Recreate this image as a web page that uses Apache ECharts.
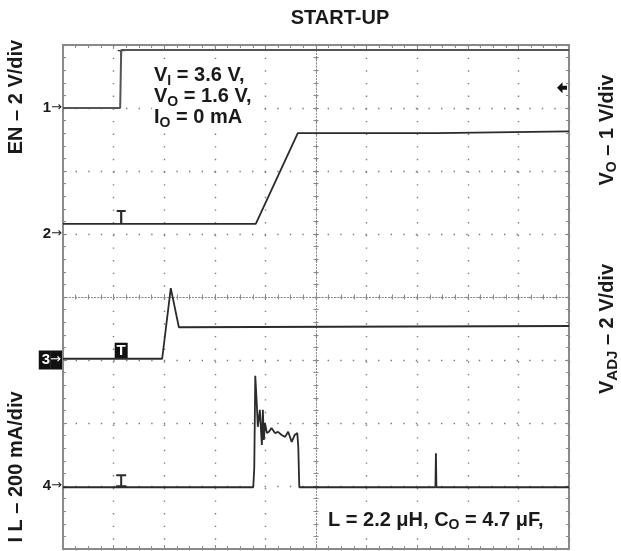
<!DOCTYPE html>
<html><head><meta charset="utf-8">
<script src="https://cdn.jsdelivr.net/npm/echarts/dist/echarts.min.js"></script>
<style>html,body{margin:0;padding:0;background:#fff}#c{width:621px;height:551px}</style>
</head><body><div id="c"></div>
<script>
// Screen is 10 horizontal x 8 vertical divisions; values are in divisions.
const xRange = [0, 10];
const yRange = [0, 8];
const centerX = [-5, 5];
const centerY = [-4, 4];

// Channel reference levels (div) and their marker labels
const channelLevels = [7, 5, 3, 1];
const channelNames = ['1', '2', '3', '4'];

// Ch1: EN
const enTrace = [[0, 7.0], [1.13, 7.0], [1.15, 7.92], [10, 7.92]];
// Ch2: VO
const voTrace = [[0, 5.16], [3.81, 5.16], [4.64, 6.60], [7.39, 6.60], [7.41, 6.63], [10, 6.63]];
// Ch3: VADJ
const vadjTrace = [[0, 3.02], [1.96, 3.02], [2.13, 4.14], [2.29, 3.52], [10, 3.54]];
// Ch4: IL
const ilTrace = [[0, 0.98], [3.76, 0.98], [3.78, 1.29], [3.80, 2.75], [3.82, 2.75], [3.83, 2.30],
  [3.85, 1.94], [3.89, 2.21], [3.93, 1.65], [3.95, 2.21], [3.97, 1.73], [3.99, 2.00], [4.03, 1.84],
  [4.07, 1.86], [4.12, 1.92], [4.19, 1.84], [4.25, 1.86], [4.32, 1.81], [4.39, 1.78], [4.45, 1.86],
  [4.52, 1.70], [4.58, 1.81], [4.63, 1.84], [4.65, 1.62], [4.67, 0.98], [7.36, 0.98], [7.37, 1.52],
  [7.38, 0.98], [10, 0.98]];

// Trigger "T" marker position (div) on each trace, and trigger level
const trigX = 1.15;
const trigLevel = 7.32;

const FONT = "'Liberation Sans', Arial, sans-serif";
const TXT = '#1a1a1a';
const TRACE = '#2b2b2b';

const chart = echarts.init(document.getElementById('c'), null, {renderer: 'canvas'});

const borderLine = {show: true, onZero: false, lineStyle: {color: '#8a8a8a', width: 2}};
const tickStyle = {color: '#8a8a8a', width: 1};

function edgeX(pos, split) {
  return {type: 'value', min: xRange[0], max: xRange[1], interval: 1, position: pos, gridIndex: 0,
    axisLine: borderLine, axisTick: {show: true, inside: true, length: 4, lineStyle: tickStyle},
    minorTick: {show: true, splitNumber: 4, length: 3, lineStyle: tickStyle},
    axisLabel: {show: false},
    splitLine: {show: split, lineStyle: {color: '#7c7c7c', width: 1.4, type: [1.4, 11.25]}}};
}
function edgeY(pos, split, labels) {
  return {type: 'value', min: yRange[0], max: yRange[1], interval: 1, position: pos, gridIndex: 0,
    axisLine: borderLine, axisTick: {show: true, inside: true, length: 4, lineStyle: tickStyle},
    minorTick: {show: true, splitNumber: 5, length: 3, lineStyle: tickStyle},
    axisLabel: labels ? {
      show: true, margin: 1, showMinLabel: true, showMaxLabel: true, hideOverlap: false,
      formatter: function (v) {
        const i = channelLevels.indexOf(v);
        if (i < 0) return '';
        if (channelNames[i] === '3') return '{box|3}{boxa|→}';
        return '{n|' + channelNames[i] + '}{a|→}';
      },
      rich: {
        n: {fontFamily: FONT, fontWeight: 'bold', fontSize: 15, color: TXT},
        a: {fontFamily: 'DejaVu Sans', fontSize: 13, color: TXT},
        box: {fontFamily: FONT, fontWeight: 'bold', fontSize: 15, color: '#fff', backgroundColor: '#111', padding: [2, 0, 2, 3], lineHeight: 15},
        boxa: {fontFamily: 'DejaVu Sans', fontSize: 13, color: '#fff', backgroundColor: '#111', padding: [3, 1, 3, 0], lineHeight: 13}
      }
    } : {show: false},
    splitLine: {show: split, lineStyle: {color: '#7c7c7c', width: 1.4, type: [1.4, 11.2]}}};
}
function centerXAxis(pos) {
  return {type: 'value', min: centerX[0], max: centerX[1], interval: 1, position: pos, gridIndex: 0,
    axisLine: {show: true, onZero: true, onZeroAxisIndex: 2, lineStyle: {color: '#8a8a8a', width: 1, type: [1, 2.16]}},
    axisTick: {show: true, inside: true, length: 3, lineStyle: tickStyle},
    minorTick: {show: true, splitNumber: 4, length: 2.5, lineStyle: tickStyle},
    axisLabel: {show: false}, splitLine: {show: false}};
}
function centerYAxis(pos) {
  return {type: 'value', min: centerY[0], max: centerY[1], interval: 1, position: pos, gridIndex: 0,
    axisLine: {show: true, onZero: true, onZeroAxisIndex: 2, lineStyle: {color: '#8a8a8a', width: 1, type: [1, 2.15]}},
    axisTick: {show: true, inside: true, length: 3, lineStyle: tickStyle},
    minorTick: {show: true, splitNumber: 5, length: 2.5, lineStyle: tickStyle},
    axisLabel: {show: false}, splitLine: {show: false}};
}

function trace(data, extra) {
  return Object.assign({type: 'line', data: data, xAxisIndex: 0, yAxisIndex: 0, showSymbol: false,
    symbol: 'none', lineStyle: {color: TRACE, width: 1.8}, animation: false, z: 5, silent: true}, extra || {});
}

const tPath = 'path://M0,0H9V2.2H5.6V14H3.4V2.2H0Z';
const iPath = 'path://M0,0H10V2H6V11H10V13H0V11H4V2H0Z';
const arrowPath = 'path://M0,5L5.5,0V3.2H10V6.8H5.5V10Z';

const rich = {
  m: {fontFamily: FONT, fontWeight: 'bold', fontSize: 20, fill: TXT, lineHeight: 21},
  s: {fontFamily: FONT, fontWeight: 'bold', fontSize: 14, fill: TXT, lineHeight: 10, padding: [11, 0, 0, 0]},
  s2: {fontFamily: FONT, fontWeight: 'bold', fontSize: 15, fill: TXT, lineHeight: 10, padding: [11, 0, 0, 0]}
};

chart.setOption({
  animation: false,
  backgroundColor: '#fff',
  grid: {left: 63, top: 45, width: 506, height: 504, containLabel: false, outerBoundsMode: 'none'},
  xAxis: [edgeX('bottom', true), edgeX('top', false), centerXAxis('bottom'), centerXAxis('top')],
  yAxis: [edgeY('left', true, true), edgeY('right', false, false), centerYAxis('left'), centerYAxis('right')],
  series: [
    trace(enTrace, {name: 'EN', lineStyle: {color: '#555', width: 2}, markPoint: {silent: true, label: {show: false}, data: [
      {coord: [trigX, enTrace[2][1]], symbol: tPath, symbolSize: [7, 7], symbolOffset: [0, '50%'], itemStyle: {color: TRACE}}
    ]}}),
    trace(voTrace, {name: 'VO', markPoint: {silent: true, label: {show: false}, data: [
      {coord: [trigX, voTrace[0][1]], symbol: tPath, symbolSize: [9, 14], symbolOffset: [0, '-50%'], itemStyle: {color: TRACE}},
      {coord: [xRange[1], trigLevel], symbol: arrowPath, symbolSize: [10, 11], symbolOffset: [-7, 0], itemStyle: {color: '#111'}}
    ]}}),
    trace(vadjTrace, {name: 'VADJ', markPoint: {silent: true, data: [
      {coord: [trigX, vadjTrace[0][1]], symbol: 'rect', symbolSize: [13, 16], symbolOffset: [0, '-50%'], itemStyle: {color: '#111'},
       label: {show: true, position: 'inside', formatter: 'T', color: '#fff', fontFamily: FONT, fontWeight: 'bold', fontSize: 15}}
    ]}}),
    trace(ilTrace, {name: 'IL', markPoint: {silent: true, label: {show: false}, data: [
      {coord: [trigX, ilTrace[0][1]], symbol: iPath, symbolSize: [10, 13], symbolOffset: [0, '-50%'], itemStyle: {color: TRACE}}
    ]}})
  ],
  graphic: [
    {type: 'text', x: 340, y: 18, silent: true,
     style: {text: 'START-UP', font: 'bold 20px ' + FONT, fill: TXT, align: 'center', verticalAlign: 'middle'}},
    {type: 'text', x: 16, y: 97, rotation: Math.PI / 2, silent: true,
     style: {text: 'EN – 2 V/div', font: 'bold 20px ' + FONT, fill: TXT, align: 'center', verticalAlign: 'middle'}},
    {type: 'text', x: 16, y: 467, rotation: Math.PI / 2, silent: true,
     style: {text: 'I L – 200 mA/div', font: 'bold 20px ' + FONT, fill: TXT, align: 'center', verticalAlign: 'middle'}},
    {type: 'text', x: 607, y: 130, rotation: Math.PI / 2, silent: true,
     style: {text: '{m|V}{s|O}{m| – 1 V/div}', rich: rich, align: 'center', verticalAlign: 'middle'}},
    {type: 'text', x: 607, y: 329, rotation: Math.PI / 2, silent: true,
     style: {text: '{m|V}{s2|ADJ}{m| – 2 V/div}', rich: rich, align: 'center', verticalAlign: 'middle'}},
    {type: 'text', x: 152, y: 64, z: 10, silent: true,
     style: {text: '{m|V}{s|I}{m| = 3.6 V,}\n{m|V}{s|O}{m| = 1.6 V,}\n{m|I}{s|O}{m| = 0 mA}', rich: rich,
       align: 'left', verticalAlign: 'top', backgroundColor: '#fff', padding: [1, 3, 1, 2]}},
    {type: 'text', x: 326, y: 520, z: 10, silent: true,
     style: {text: '{m|L = 2.2 μH, C}{s|O}{m| = 4.7 μF,}', rich: rich,
       align: 'left', verticalAlign: 'middle', backgroundColor: '#fff', padding: [1, 3, 1, 2]}}
  ]
});
</script>
</body></html>
